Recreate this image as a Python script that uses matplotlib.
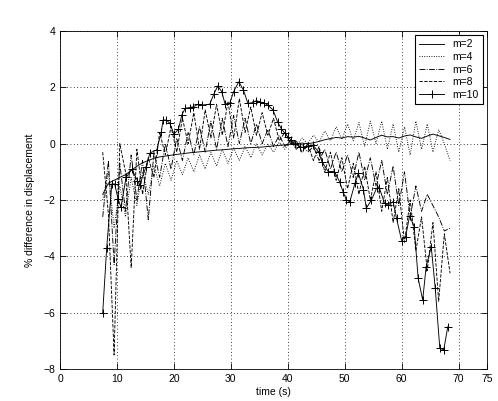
import numpy as np
import matplotlib
matplotlib.use('Agg')
import matplotlib.pyplot as plt

# sample times for m=2..8 (s)
t_base = np.arange(7.5, 68.6, 1.0)

m2 = [-1.8, -1.4, -1.3, -1.2, -1.1, -0.95, -0.8, -0.68, -0.6, -0.52,
      -0.47, -0.44, -0.41, -0.38, -0.36, -0.33, -0.31, -0.29, -0.27, -0.25,
      -0.23, -0.22, -0.2, -0.18, -0.17, -0.15, -0.14, -0.13, -0.12, -0.1,
      -0.08, -0.06, -0.04, -0.02, 0.0, 0.02, 0.0, 0.03, 0.08, 0.14,
      0.18, 0.22, 0.2, 0.25, 0.23, 0.26, 0.2, 0.13, 0.22, 0.3,
      0.24, 0.25, 0.2, 0.27, 0.31, 0.24, 0.19, 0.27, 0.34, 0.28,
      0.22, 0.15]

m4 = [-2.0, -1.0, -3.0, -1.5, -2.6, -1.2, -2.2, -1.0, -1.8, -0.8,
      -1.5, -0.7, -1.3, -0.6, -1.1, -0.5, -1.0, -0.4, -0.9, -0.3,
      -0.8, -0.2, -0.7, -0.15, -0.6, -0.1, -0.5, 0.0, -0.4, 0.0,
      -0.3, 0.05, -0.2, 0.1, -0.1, 0.2, 0.0, 0.3, 0.05, 0.45,
      0.1, 0.6, 0.15, 0.7, 0.1, 0.75, -0.1, 0.8, 0.0, 0.8,
      -0.2, 0.7, -0.3, 0.6, -0.4, 0.8, -0.2, 0.7, -0.3, 0.5,
      0.0, -0.6]

m6 = [-2.6, -0.6, -4.3, -0.7, -2.4, -0.4, -2.0, -0.6, -2.7, -0.3,
      -1.2, 0.0, -0.9, 0.2, -0.6, 0.4, -0.4, 0.6, -0.3, 0.8,
      -0.2, 0.9, -0.1, 1.0, 0.0, 0.9, 0.0, 0.7, 0.0, 0.5,
      -0.1, 0.3, -0.1, 0.1, -0.2, 0.0, -0.3, -0.1, -0.6, -0.2,
      -0.9, -0.3, -1.0, -0.4, -1.2, -0.3, -1.3, -0.5, -1.5, -0.6,
      -1.8, -0.8, -2.2, -1.0, -2.6, -1.5, -2.4, -1.8, -2.2, -2.6,
      -3.1, -3.0]

m8 = [-0.3, -2.5, -7.5, 0.0, -1.0, -4.4, -0.2, -1.8, -0.5, -1.2,
      0.4, -0.4, 0.6, -0.3, 0.9, 0.0, 1.1, -0.2, 1.2, 0.2,
      1.4, 0.3, 1.5, 0.2, 1.6, 0.4, 1.3, 0.3, 1.1, 0.3,
      0.9, 0.1, 0.4, 0.0, 0.1, -0.3, 0.0, -0.6, -0.1, -1.0,
      -0.3, -1.3, -0.5, -1.6, -0.7, -1.8, -0.8, -2.0, -1.0, -2.4,
      -1.2, -2.8, -1.6, -3.5, -2.0, -3.8, -2.6, -4.5, -2.8, -5.6,
      -3.2, -4.6]

t10 = [7.5, 8.2, 9.1, 9.6, 10.2, 10.7, 11.6, 12.6, 13.6, 14.0,
       15.1, 15.8, 17.0, 17.8, 18.1, 18.7, 19.3, 20.0, 20.8, 21.4,
       22.0, 22.8, 23.4, 24.3, 24.9, 26.3, 27.0, 27.7, 28.4, 29.0,
       29.8, 30.5, 31.4, 32.2, 33.0, 33.9, 34.5, 35.1, 35.8, 36.5,
       37.4, 38.2, 38.9, 39.5, 40.1, 40.6, 41.3, 42.1, 42.7, 43.5,
       44.4, 45.4, 46.0, 47.1, 48.2, 49.1, 49.7, 50.3, 50.9, 51.8,
       52.4, 53.3, 53.8, 54.7, 55.6, 56.1, 57.0, 57.6, 58.5, 59.1,
       60.0, 60.7, 61.4, 62.2, 62.9, 63.7, 64.3, 65.2, 65.9, 66.7,
       67.4, 68.1]
m10 = [-6.0, -3.7, -1.43, -1.43, -1.96, -2.26, -1.2, -0.91, -1.31, -1.47,
       -0.82, -0.33, -0.22, 0.43, 0.84, 0.84, 0.72, 0.34, 0.51, 1.02,
       1.26, 1.28, 1.31, 1.40, 1.37, 1.40, 1.75, 2.05, 1.85, 1.40,
       1.43, 1.85, 2.20, 1.91, 1.43, 1.46, 1.53, 1.48, 1.45, 1.37,
       1.20, 0.78, 0.52, 0.37, 0.22, 0.13, 0.0, -0.11, -0.13, -0.08,
       -0.05, -0.28, -0.64, -0.99, -0.99, -1.35, -1.70, -2.0, -2.06, -1.41,
       -1.05, -1.64, -2.29, -2.0, -1.58, -1.58, -2.12, -2.18, -2.06, -2.65,
       -3.44, -3.30, -2.56, -2.95, -4.78, -5.55, -4.37, -3.66, -5.13, -7.26,
       -7.32, -6.5]

xticks = [0, 10, 20, 30, 40, 50, 60, 70, 75]
yticks = [-8, -6, -4, -2, 0, 2, 4]

plt.rcParams['font.family'] = ['Liberation Sans', 'DejaVu Sans']
plt.rcParams['font.size'] = 7.5

fig = plt.figure(figsize=(4.98, 4.01), dpi=100)
ax = fig.add_axes([0.1205, 0.0798, 0.8575, 0.8429])

lw = 0.65
ax.plot(t_base, m2, '-', color='black', lw=lw, label='m=2')
ax.plot(t_base, m4, ':', color='black', lw=lw, label='m=4')
ax.plot(t_base, m6, '-.', color='black', lw=lw, label='m=6')
ax.plot(t_base, m8, '--', color='black', lw=lw, label='m=8')
ax.plot(t10, m10, '-', color='black', lw=lw, marker='+', ms=6, mew=0.7, label='m=10')

ax.set_xlim(0, 75)
ax.set_ylim(-8, 4)
ax.set_xticks(xticks)
ax.set_yticks(yticks)
ax.tick_params(direction='in', top=True, right=True, length=4, width=0.6)
ax.grid(True, linestyle=(0, (1, 3)), color='black', lw=0.6)
for s in ax.spines.values():
    s.set_linewidth(0.6)

ax.set_xlabel('time (s)', labelpad=2)
ax.set_ylabel('% difference in displacement', labelpad=6)

leg = ax.legend(loc='upper right', fancybox=False, framealpha=1,
                edgecolor='black', borderaxespad=0.4, handlelength=2.4,
                labelspacing=0.25, borderpad=0.4)
leg.get_frame().set_linewidth(0.8)

fig.savefig('out.png', dpi=100)
